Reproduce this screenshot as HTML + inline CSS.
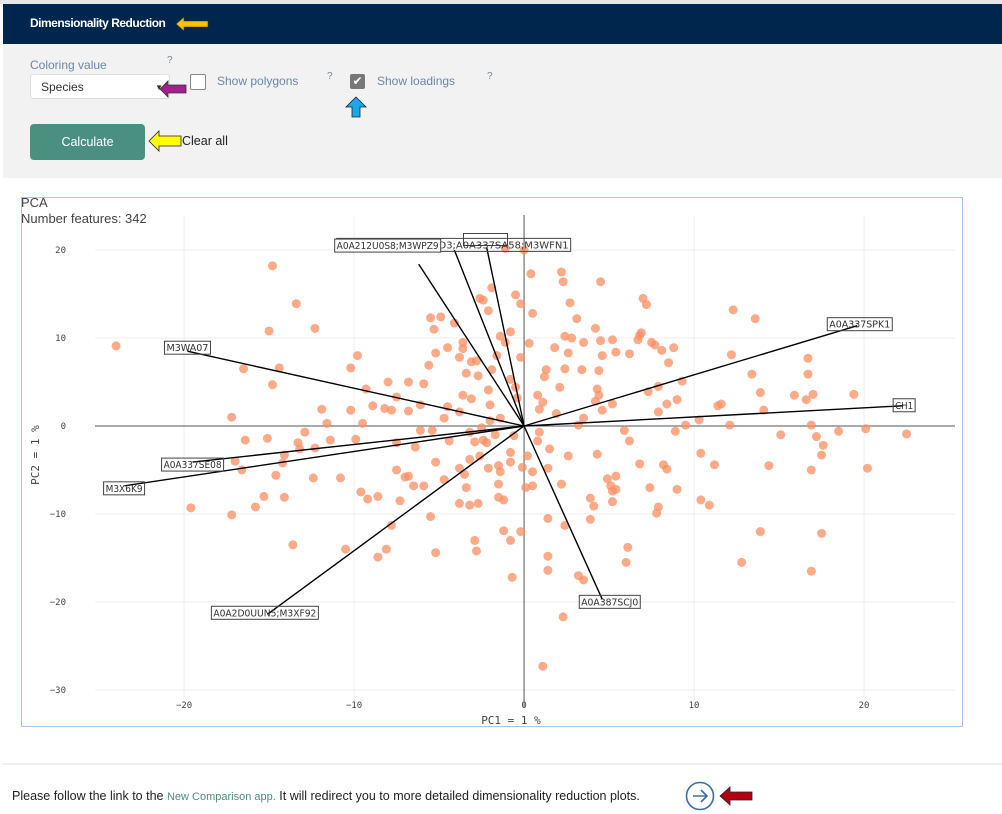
<!DOCTYPE html>
<html><head><meta charset="utf-8"><style>
body{margin:0;width:1002px;height:814px;background:#fff;font-family:"Liberation Sans",sans-serif;position:relative;overflow:hidden}
.abs{position:absolute}
</style></head><body>
<div class="abs" style="left:0;top:0;width:1002px;height:4px;background:#e6e6e6"></div>
<div class="abs" style="left:3px;top:4px;width:999px;height:40px;background:#00264d"></div>
<div class="abs" style="left:30px;top:16px;color:#fff;font-weight:bold;font-size:12px;letter-spacing:-0.5px">Dimensionality Reduction</div>
<svg class="abs" style="left:174px;top:14px" width="36" height="20"><polygon points="2,10 10,3 10,7 34,7 34,13 10,13 10,17" fill="#ffc000" stroke="#333" stroke-width="0.6"/></svg>
<div class="abs" style="left:3px;top:44px;width:999px;height:134px;background:#f2f2f2"></div>
<div class="abs" style="left:30px;top:58px;color:#6a86a8;font-size:12px">Coloring value</div>
<div class="abs" style="left:167px;top:55px;color:#6a86a8;font-size:10px">?</div>
<div class="abs" style="left:30px;top:74px;width:140px;height:25px;background:#fff;border:1px solid #ddd;border-radius:3px;font-size:12px;line-height:25px;box-sizing:border-box;padding-left:10px;color:#333">Species<span style="position:absolute;right:6px;top:0;font-size:8px">▼</span></div>
<svg class="abs" style="left:158px;top:78px" width="30" height="22"><polygon points="2,11 10,3 10,7 28,7 28,15 10,15 10,19" fill="#a0208c" stroke="#333" stroke-width="0.8"/></svg>
<div class="abs" style="left:190px;top:74px;width:14px;height:14px;background:#fff;border:1px solid #888;border-radius:2px"></div>
<div class="abs" style="left:217px;top:74px;color:#6a86a8;font-size:12px">Show polygons</div>
<div class="abs" style="left:327px;top:71px;color:#6a86a8;font-size:10px">?</div>
<div class="abs" style="left:350px;top:74px;width:15px;height:15px;background:#777;border-radius:2px;color:#fff;font-size:12px;line-height:15px;text-align:center">✔</div>
<div class="abs" style="left:377px;top:74px;color:#6a86a8;font-size:12px">Show loadings</div>
<div class="abs" style="left:487px;top:71px;color:#6a86a8;font-size:10px">?</div>
<svg class="abs" style="left:344px;top:96px" width="24" height="22"><polygon points="12,1 22,11 16,11 16,21 8,21 8,11 2,11" fill="#1aa7ec" stroke="#223" stroke-width="0.8"/></svg>
<div class="abs" style="left:30px;top:124px;width:115px;height:36px;background:#4a8f80;border-radius:4px;color:#fff;font-size:12.5px;line-height:36px;text-align:center">Calculate</div>
<svg class="abs" style="left:147px;top:128px" width="36" height="26"><polygon points="2,13 12,3 12,8 34,8 34,18 12,18 12,23" fill="#ffff00" stroke="#223" stroke-width="0.8"/></svg>
<div class="abs" style="left:182px;top:134px;color:#222;font-size:12.5px">Clear all</div>

<svg class="abs" id="chart" style="left:0;top:0" width="1002" height="814"></svg>

<div class="abs" style="left:3px;top:763px;width:999px;height:2px;background:#eee"></div>
<div class="abs" style="left:12px;top:789px;font-size:12.5px;color:#222">Please follow the link to the <span style="color:#4a8f80;font-size:11px">New Comparison app.</span> It will redirect you to more detailed dimensionality reduction plots.</div>
<svg class="abs" style="left:685px;top:781px" width="32" height="32"><circle cx="15" cy="15" r="13.5" fill="none" stroke="#3b6ea5" stroke-width="1.6"/><path d="M8 15 H22 M16 9 L22 15 L16 21" fill="none" stroke="#3b6ea5" stroke-width="1.6"/></svg>
<svg class="abs" style="left:718px;top:785px" width="36" height="22"><polygon points="2,11 12,2 12,7 34,7 34,15 12,15 12,20" fill="#b00010" stroke="#223" stroke-width="0.8"/></svg>

<script>
const pcX=[-24.0,-14.8,-13.4,-15.0,-12.3,-16.5,-14.4,-14.8,-17.2,-16.4,-13.3,-11.9,-10.2,-8.0,-6.8,-9.3,-9.8,-9.9,-11.4,-12.3,-13.2,-15.1,-14.2,-17.0,-16.6,-15.3,-14.1,-17.2,-19.6,-15.8,-13.6,-12.4,-10.8,-7.5,-7.0,-5.9,-7.5,-6.4,-6.8,-5.4,-7.5,-8.9,-8.2,-6.1,-5.9,-5.6,-4.5,-3.8,-3.6,-3.4,-5.2,-4.5,-5.3,-5.5,-4.9,-4.1,-3.6,-3.8,-3.1,-2.8,-2.7,-2.1,-1.9,-1.6,-1.4,-2.1,-2.4,-2.6,-1.9,-1.1,-3.6,-4.4,-3.8,-3.5,-2.1,-1.5,-1.4,-1.5,-3.4,-3.2,-2.7,-3.8,-4.7,-5.2,-6.5,-8.6,-9.2,-7.8,-8.1,-8.6,-10.5,-5.5,-5.2,-2.9,-2.8,-0.8,-1.2,-0.2,-0.7,1.4,1.1,2.3,3.5,3.2,1.4,1.4,2.4,3.9,6.1,6.0,5.2,4.1,3.9,2.2,1.4,0.8,0.9,1.5,2.6,4.3,4.9,5.4,5.2,5.4,5.1,7.4,7.9,7.8,9.0,8.2,8.9,10.3,9.5,10.4,12.1,14.4,16.9,17.6,16.9,17.5,18.5,20.1,22.5,20.2,13.9,12.8,16.9,17.5,10.4,11.2,10.9,6.8,8.4,6.2,5.9,4.4,3.2,4.2,3.5,4.6,5.2,7.3,7.9,7.9,8.4,9.0,9.3,8.5,8.1,7.5,6.8,5.4,5.2,4.6,2.6,2.4,3.4,4.4,4.3,2.1,1.2,1.1,1.3,1.8,2.4,2.8,3.5,3.1,4.2,4.5,6.7,6.9,6.2,7.7,8.8,7.2,7.0,2.7,2.3,4.5,0.5,0.4,2.2,12.3,13.6,12.2,16.7,16.7,17.0,13.9,14.1,11.6,11.4,13.4,19.4,15.9,16.6,17.2,15.1,0,-0.5,-0.2,-0.8,-1.1,-0.2,0.3,-0.8,-0.5,-0.4,-0.6,-0.8,-0.8,-0.1,-1.2,-1.5,0.1,0.2,0.5,0.5,0.8,0.9,1.9,-3.2,-2.4,-1.7,-2.5,-2.0,-2.0,-1.4,-3.1,-4.7,-2.6,-2.9,-2.2,-3.2,-6.1,-7.8,-9.5,-10.2,-11.6,-12.9,-14.1,-14.6,-7.3,-6.8,-9.6];
const pcY=[9.1,18.2,13.9,10.8,11.1,6.5,6.6,4.7,1.0,-1.6,-1.9,1.9,6.6,5.0,5.0,4.2,8.0,-1.5,-1.6,-2.5,-2.6,-1.4,-4.2,-4.0,-5.0,-8.0,-8.1,-10.1,-9.3,-9.2,-13.5,-5.9,-5.9,-5.0,-5.8,-6.8,-1.9,-2.4,1.7,-0.5,3.3,2.3,2.0,2.4,4.8,6.9,2.2,1.6,3.5,6.0,8.3,8.9,11.0,12.3,12.4,11.7,8.8,7.8,7.3,7.4,5.7,4.1,6.4,8.0,10.2,13.1,14.3,14.5,15.7,20.2,9.5,-1.7,-4.8,-5.5,-4.8,-4.5,-5.2,-6.6,-7.0,-9.0,-8.8,-8.8,-6.1,-4.1,-6.8,-8.0,-8.3,-11.3,-14.0,-14.9,-14.0,-10.3,-14.4,-13.0,-14.2,-13.0,-11.9,-12.0,-17.2,-10.5,-27.3,-21.7,-17.5,-17.0,-16.4,-14.8,-11.3,-10.6,-13.8,-15.5,-8.6,-9.1,-8.2,-6.6,-4.8,-1.7,-0.7,-2.6,-3.4,-3.2,-6.0,-5.7,-7.4,-7.2,-6.8,-7.0,-9.2,-9.9,-7.2,-4.4,-0.6,0.7,0.1,-3.1,0.1,-4.5,0.1,-2.2,-5.0,-3.3,-0.6,-0.3,-0.9,-4.8,-12.0,-15.5,-16.5,-12.2,-8.4,-4.4,-9.0,-4.3,-4.9,-1.7,-0.5,3.5,0.1,2.8,0.9,1.8,2.5,3.9,4.5,1.6,2.5,3.0,5.1,7.2,8.6,9.5,10.3,8.4,9.8,8.0,8.3,6.5,6.4,6.3,4.2,4.4,5.6,2.7,6.4,8.9,10.2,10.0,9.5,12.2,11.1,9.7,9.8,10.6,8.2,9.2,8.9,13.8,14.5,14.0,16.4,16.4,12.8,17.3,17.5,13.2,12.2,8.1,7.7,5.9,3.6,3.8,1.8,2.5,2.3,5.9,3.6,3.5,3.0,-1.2,-1.0,20.0,14.9,13.9,10.7,9.5,7.8,9.4,5.3,4.4,3.2,-1.1,-3.0,-4.1,-4.7,-8.4,-8.1,-7.0,-3.4,-6.8,-5.2,3.5,1.9,1.4,-0.7,-1.6,-1.0,-0.2,0.6,2.4,0.9,3.1,0.9,-3.4,-1.8,-1.9,-3.8,-0.5,1.8,0.3,1.8,0.3,-0.7,-3.3,-5.6,-8.5,-5.7,-7.5];
const loadNames=["M3WA07","A0A337SE08","M3X6K9","A0A2D0UUN5;M3XF92","A0A387SCJ0","CH1","A0A337SPK1","A0A212U0S8;M3WPZ9","M3W1D3","A0A337SA58;M3WFN1"];
const loadX=[-19.8,-19.5,-23.5,-15.1,4.6,22.3,19.6,-6.2,-4.1,-2.2];
const loadY=[8.5,-4.1,-6.8,-21.4,-19.7,2.3,11.4,18.4,20.0,20.3];
const xTicks=[-20,-10,0,10,20];
const yTicks=[20,10,0,-10,-20,-30];

const NS="http://www.w3.org/2000/svg";
const svg=document.getElementById('chart');
const L=95,R=955,T=215,B=708,x0=-25.24,x1=25.35,y0=-32.05,y1=23.98;
const sx=v=>L+(v-x0)/(x1-x0)*(R-L);
const sy=v=>B-(v-y0)/(y1-y0)*(B-T);
function mk(tag,attrs,parent){const e=document.createElementNS(NS,tag);for(const k in attrs)e.setAttribute(k,attrs[k]);(parent||svg).appendChild(e);return e;}

let frame=mk('rect',{x:21.5,y:197.5,width:941,height:529,fill:'#fff',stroke:'#a9c7ee','stroke-width':1});


let t1=mk('text',{x:21,y:207,'font-size':13,fill:'#444','font-family':'Liberation Sans, sans-serif'});t1.textContent='PCA';


let t2=mk('text',{x:21,y:223,'font-size':13,fill:'#444','font-family':'Liberation Sans, sans-serif'});t2.textContent='Number features: 342';



xTicks.forEach(v=>{
  if(v!==0){const g=mk('line',{x1:sx(v),x2:sx(v),y1:T,y2:B,stroke:'#eee'});
  
  }
  const t=mk('text',{x:sx(v),y:708,'font-size':9,fill:'#444','text-anchor':'middle','font-family':'DejaVu Sans Mono, monospace'});t.textContent=v<0?'\u2212'+(-v):v;
  
  
});
yTicks.forEach(v=>{
  if(v!==0){const g=mk('line',{x1:L,x2:R,y1:sy(v),y2:sy(v),stroke:'#eee'});
  
  }
  const t=mk('text',{x:66,y:sy(v)+3,'font-size':9,fill:'#444','text-anchor':'end','font-family':'DejaVu Sans Mono, monospace'});t.textContent=v<0?'\u2212'+(-v):v;
  
  
});
let zx=mk('line',{x1:L,x2:R,y1:sy(0),y2:sy(0),stroke:'#555'});


let zy=mk('line',{x1:sx(0),x2:sx(0),y1:T,y2:B,stroke:'#555'});



pcX.forEach((v,i)=>{
  const c=mk('circle',{cx:sx(v),cy:sy(pcY[i]),r:4.5,fill:'#fc8d62','fill-opacity':0.75});
  
  
});

loadNames.forEach((n,i)=>{
  const ln=mk('line',{x1:sx(0),y1:sy(0),x2:sx(loadX[i]),y2:sy(loadY[i]),stroke:'#000','stroke-width':1.4});
  
  
});
// label box offsets from arrow tips
const offs=[[-23,-10],[-31,-4],[-21,-4],[-56,-8],[-23,-4],[-10,-7],[-30,-8],[-84,-25],[0,0],[-150,-9]];
const widths=[46,62,41,107,61,22,65,106,0,234];
const shown=["M3WA07","A0A337SE08","M3X6K9","A0A2D0UUN5;M3XF92","A0A387SCJ0","CH1","A0A337SPK1","A0A212U0S8;M3WPZ9","","A0A212U0S8;M3W1D3;A0A337SA58;M3WFN1"];
// empty hidden box
let hid=mk('rect',{x:463.5,y:233.5,width:44,height:12,fill:'none',stroke:'#444'});


[9,0,1,2,3,4,5,6,7].forEach(i=>{
  const bx=sx(loadX[i])+offs[i][0], by=sy(loadY[i])+offs[i][1];
  const r=mk('rect',{x:bx,y:by,width:widths[i],height:13,fill:i===7?'#fff':'none',stroke:'#444','stroke-width':1});
  
  
  const t=mk('text',{x:bx+widths[i]/2,y:by+10,'font-size':9.5,fill:'#333','text-anchor':'middle','font-family':'DejaVu Sans, sans-serif','textLength':widths[i]-4,'lengthAdjust':'spacingAndGlyphs'});
  t.textContent=shown[i];
  
  
});

let xt=mk('text',{x:511,y:724,'font-size':11,fill:'#444','text-anchor':'middle','font-family':'DejaVu Sans Mono, monospace'});xt.textContent='PC1 =  1 %';


let yt=mk('text',{x:39,y:455,'font-size':11,fill:'#444','text-anchor':'middle','font-family':'DejaVu Sans Mono, monospace',transform:'rotate(-90 39 455)'});yt.textContent='PC2 =  1 %';


</script>
</body></html>
